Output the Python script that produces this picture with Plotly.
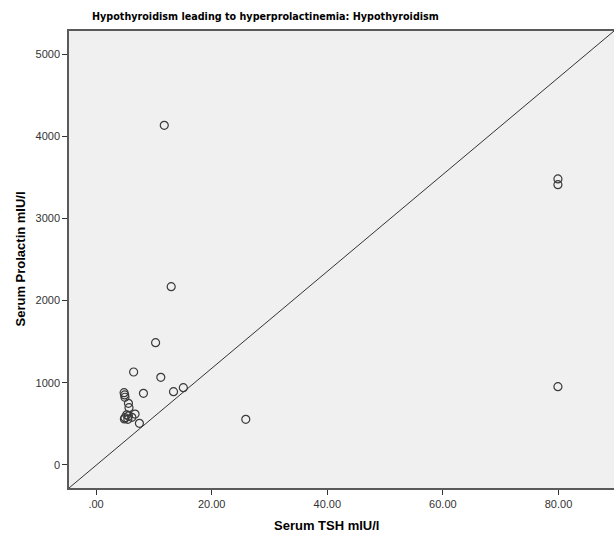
import plotly.graph_objects as go

# Data (Serum TSH mIU/l vs Serum Prolactin mIU/l)
tsh = [11.8, 13.0, 79.9, 79.9, 79.9, 10.3, 11.2, 8.2, 13.4, 15.1, 25.9, 6.5,
       4.85, 4.95, 5.0, 5.6, 5.7, 5.0, 5.6, 5.5, 6.75, 7.5, 6.2, 4.9, 5.3]
prolactin = [4133, 2169, 3480, 3410, 953, 1488, 1067, 872, 892, 940, 556, 1131,
             880, 852, 824, 750, 697, 575, 596, 556, 620, 507, 580, 560, 610]

x_ticks = [0, 20, 40, 60, 80]
x_ticklabels = [".00", "20.00", "40.00", "60.00", "80.00"]
y_ticks = [0, 1000, 2000, 3000, 4000, 5000]
y_ticklabels = ["0", "1000", "2000", "3000", "4000", "5000"]

fig = go.Figure()
fig.add_trace(go.Scatter(
    x=tsh, y=prolactin, mode="markers",
    marker=dict(symbol="circle-open", size=8, color="#3a3a3a", line=dict(width=1.2)),
    showlegend=False, hoverinfo="x+y"))

# reference diagonal line (corner to corner)
fig.add_shape(type="line", xref="paper", yref="paper", x0=0, y0=0, x1=1, y1=1,
              line=dict(color="#333333", width=1))

axis_common = dict(showgrid=False, zeroline=False, showline=True, linecolor="#5a5a5a",
                   linewidth=1.5, ticks="outside", ticklen=5, tickwidth=1.2,
                   tickcolor="#333333", tickfont=dict(family="Arial, Liberation Sans", size=11, color="#333333"))

fig.update_layout(
    width=614, height=537,
    margin=dict(l=69, r=0, t=31, b=49),
    paper_bgcolor="white", plot_bgcolor="#f0f0f0",
    xaxis=dict(range=[-4.68, 89.6], tickvals=x_ticks, ticktext=x_ticklabels, mirror=True, **axis_common),
    yaxis=dict(range=[-280, 5280], tickvals=y_ticks, ticktext=y_ticklabels, mirror=False, **axis_common),
    annotations=[
        dict(text="<b>Hypothyroidism leading to hyperprolactinemia: Hypothyroidism</b>",
             xref="paper", yref="paper", x=(265 - 69) / 545, y=1, yshift=6,
             xanchor="center", yanchor="bottom", showarrow=False,
             font=dict(family="Liberation Sans Narrow, DejaVu Sans Condensed, Arial Narrow, Arial",
                       size=10.7, color="black")),
        dict(text="<b>Serum TSH mIU/l</b>", xref="paper", yref="paper",
             x=(326 - 69) / 545, y=0, yshift=-28, xanchor="center", yanchor="top",
             showarrow=False, font=dict(family="Arial, Liberation Sans", size=13, color="black")),
        dict(text="<b>Serum Prolactin mIU/l</b>", xref="paper", yref="paper",
             x=0, xshift=-49, y=0.5, xanchor="center", yanchor="middle", textangle=-90,
             showarrow=False, font=dict(family="Arial, Liberation Sans", size=13, color="black")),
    ],
)

fig.write_html("out.html")
